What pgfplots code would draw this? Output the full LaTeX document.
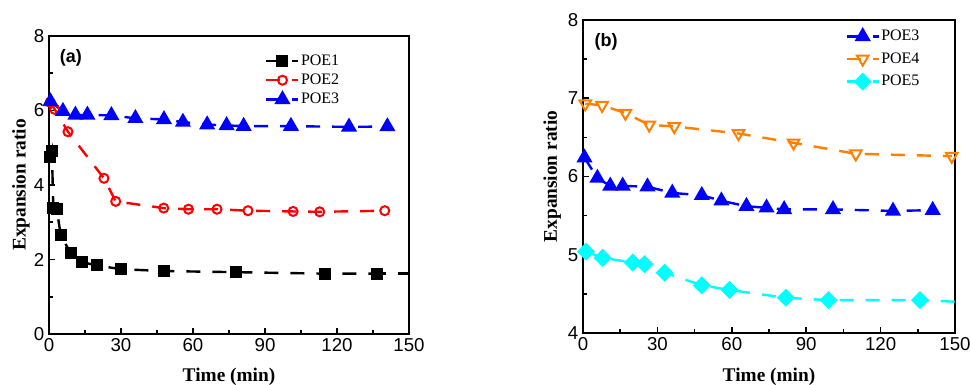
\documentclass[border=0pt]{standalone}
\usepackage{fontspec}
\setmainfont{Liberation Serif}
\newfontfamily\arialf{Liberation Sans}
\usepackage{pgfplots}
\pgfplotsset{compat=1.18}
\definecolor{poeorange}{RGB}{255,128,0}
\definecolor{poecyan}{RGB}{0,255,255}
\pgfplotsset{
  panel/.style={
    scale only axis,
    axis line style={line width=1.6pt},
    tick align=inside,
    xtick pos=bottom, ytick pos=left,
    major tick length=4.5pt, minor tick length=3pt,
    every tick/.style={black, line width=1.3pt},
    minor x tick num=1, minor y tick num=1,
    xmin=0, xmax=150, xtick={0,30,60,90,120,150},
    /pgf/number format/assume math mode=true,
    tick label style={font=\arialf\fontsize{14}{14}\selectfont},
    label style={font=\bfseries\fontsize{14.5}{14.5}\selectfont},
    xlabel={Time (min)}, ylabel={Expansion ratio},
    legend cell align=left,
    legend style={draw=none, fill=none, inner sep=0pt, font=\fontsize{12}{12}\selectfont, row sep=2pt,
      nodes={inner xsep=1pt, inner ysep=1.5pt}},
    legend image code/.code={\draw[mark repeat=2,mark phase=2,#1] plot coordinates {(0pt,0pt) (12pt,0pt) (24pt,0pt)};},
    every axis plot/.append style={line width=1.8pt, dash pattern=on 10.5pt off 9pt},
  },
}
\begin{document}
\begin{tikzpicture}
\path[use as bounding box] (0pt,0pt) rectangle (727.5pt,-288.75pt);
% Panel (a)
\begin{axis}[panel,
  at={(36.75pt,-250.5pt)}, anchor=south west,
  width=270pt, height=223.5pt,
  ymin=0, ymax=8, ytick={0,2,4,6,8},
  xlabel style={at={(axis description cs:0.5,-0.145)}, anchor=center},
  ylabel style={at={(axis description cs:-0.078,0.5)}, anchor=center},
  legend style={at={(axis description cs:0.6,0.945)}, anchor=north west},
]
\addplot[black, mark=square*, mark size=3.6pt, mark options={solid}] coordinates {
(0.5,4.75) (1.2,4.92) (1.8,3.38) (3.2,3.36) (4.9,2.65) (9,2.17) (13.9,1.93) (19.8,1.84) (30.1,1.74) (47.8,1.69) (77.9,1.66) (114.9,1.62) (136.8,1.62)
};
\addlegendentry{POE1}
\addplot[black, forget plot, dash phase=4pt] coordinates {(136.8,1.62) (150,1.62)};
\addplot[red, mark=o, mark size=3.4pt, mark options={solid, line width=1.5pt, fill=white}] coordinates {
(0.5,6.22) (2.4,6.03) (7.9,5.43) (22.9,4.18) (27.8,3.56) (47.8,3.38) (58.1,3.35) (70,3.35) (82.9,3.31) (101.7,3.29) (112.8,3.28) (139.9,3.31)
};
\addlegendentry{POE2}
\addplot[blue, mark=triangle*, mark size=5.2pt, mark options={solid}] coordinates {
(0.6,6.24) (5.8,5.98) (11,5.88) (16,5.88) (26,5.87) (36,5.79) (47.9,5.76) (55.8,5.69) (65.9,5.62) (74,5.60) (81.1,5.58) (100.8,5.58) (125,5.56) (141,5.57)
};
\addlegendentry{POE3}
\node[font=\arialf\bfseries\fontsize{13.5}{13.5}\selectfont] at (axis description cs:0.061,0.926) {(a)};
\end{axis}
% Panel (b)
\begin{axis}[panel,
  at={(437.25pt,-249.75pt)}, anchor=south west,
  width=279pt, height=234.75pt,
  ymin=4, ymax=8, ytick={4,5,6,7,8},
  xlabel style={at={(axis description cs:0.5,-0.139)}, anchor=center},
  ylabel style={at={(axis description cs:-0.083,0.5)}, anchor=center},
  legend style={at={(axis description cs:0.705,0.975)}, anchor=north west, row sep=4.5pt},
]
\addplot[blue, mark=triangle*, mark size=5.2pt, mark options={solid}] coordinates {
(0.6,6.24) (5.8,5.98) (11,5.88) (16,5.88) (26,5.87) (36,5.79) (47.9,5.76) (55.8,5.69) (65.9,5.62) (74,5.60) (81.1,5.58) (100.8,5.58) (125,5.56) (141,5.57)
};
\addlegendentry{POE3}
\addplot[poeorange, mark=triangle, mark size=5pt, mark options={solid, rotate=180, line width=1.5pt, fill=white}] coordinates {
(0.9,6.93) (7.7,6.91) (17.1,6.81) (26.7,6.66) (36.8,6.64) (62.7,6.55) (84.9,6.43) (110,6.29) (148.7,6.26)
};
\addlegendentry{POE4}
\addplot[poecyan, mark=square*, mark size=3.9pt, mark options={solid, rotate=45}] coordinates {
(1.2,5.04) (7.9,4.96) (20.1,4.90) (24.8,4.88) (32.9,4.77) (47.9,4.61) (59.1,4.55) (81.8,4.45) (99,4.42) (135.9,4.42)
};
\addlegendentry{POE5}
\addplot[poecyan, forget plot, dash phase=4pt] coordinates {(135.9,4.42) (150,4.40)};
\node[font=\arialf\bfseries\fontsize{13.5}{13.5}\selectfont] at (axis description cs:0.062,0.93) {(b)};
\end{axis}
\end{tikzpicture}
\end{document}
